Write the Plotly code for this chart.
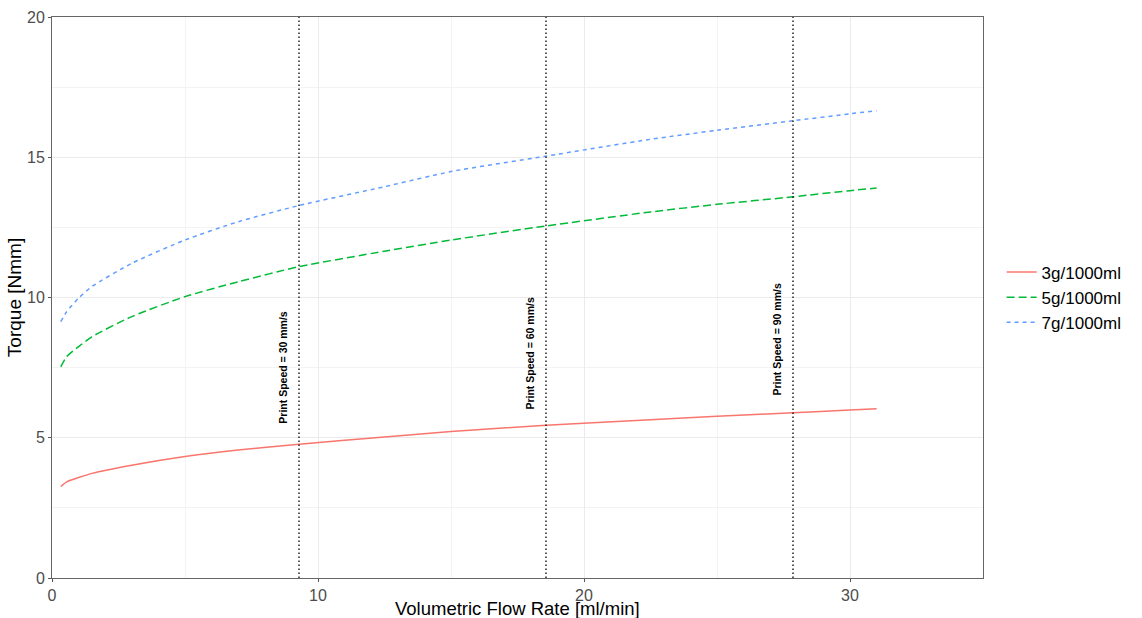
import plotly.graph_objects as go

# Data
flow_rate = [0.33, 0.55, 1.0, 1.5, 3.0, 5.0, 7.0, 9.29, 12.5, 15.0, 18.57,
             22.5, 25.0, 27.86, 30.0, 31.0]
torque_3g = [3.26, 3.43, 3.58, 3.73, 4.02, 4.33, 4.56, 4.77, 5.03, 5.22, 5.45,
             5.64, 5.77, 5.89, 5.99, 6.03]
torque_5g = [7.53, 7.89, 8.25, 8.60, 9.32, 10.03, 10.56, 11.10, 11.65, 12.05, 12.55,
             13.05, 13.32, 13.59, 13.81, 13.90]
torque_7g = [9.14, 9.49, 9.98, 10.39, 11.22, 12.05, 12.70, 13.28, 13.95, 14.49, 15.04,
             15.64, 15.96, 16.30, 16.55, 16.66]

series_names = ["3g/1000ml", "5g/1000ml", "7g/1000ml"]
series_colors = ["#F8766D", "#00BA38", "#619CFF"]
series_dash = ["solid", "8px,4px", "4px,4px"]

speed_lines = [9.286, 18.571, 27.857]
speed_labels = ["Print Speed = 30 mm/s", "Print Speed = 60 mm/s", "Print Speed = 90 mm/s"]
label_y = [7.5, 8.0, 8.5]

x_ticks = [0, 10, 20, 30]
y_ticks = [0, 5, 10, 15, 20]
x_title = "Volumetric Flow Rate [ml/min]"
y_title = "Torque [Nmm]"

fig = go.Figure()
for name, ys, col, dash in zip(series_names, [torque_3g, torque_5g, torque_7g],
                               series_colors, series_dash):
    fig.add_trace(go.Scatter(x=flow_rate, y=ys, mode="lines", name=name,
                             line=dict(color=col, width=1.5, dash=dash, shape="spline",
                                       smoothing=0.6)))

for xv, lab, yv in zip(speed_lines, speed_labels, label_y):
    fig.add_vline(x=xv, line=dict(color="black", width=1.3, dash="1.5px,2.5px"))
    fig.add_annotation(x=xv, y=yv, text="<b>" + lab + "</b>", textangle=-90, showarrow=False,
                       xshift=-16, font=dict(family="Liberation Sans", size=10.5, color="black"))

# x-axis title as a paper-anchored annotation to control its exact position
fig.add_annotation(x=0.5, y=0, xref="paper", yref="paper", xanchor="center", yanchor="top",
                   yshift=-19, text=x_title, showarrow=False, borderpad=0,
                   font=dict(family="Liberation Sans", size=18.5, color="black"))

fig.update_xaxes(range=[0, 35], tickvals=x_ticks, ticks="outside", ticklen=3,
                 tickcolor="#555", showline=True, linecolor="#666", linewidth=1, mirror=True,
                 gridcolor="#EBEBEB", gridwidth=1, zeroline=False, automargin=False,
                 minor=dict(dtick=5, showgrid=True, gridcolor="#F3F3F3", gridwidth=0.6),
                 tickfont=dict(family="Liberation Sans", size=16, color="#4D4D4D"))
fig.update_yaxes(range=[0, 20], tickvals=y_ticks, ticks="outside", ticklen=3,
                 tickcolor="#555", showline=True, linecolor="#666", linewidth=1, mirror=True,
                 gridcolor="#EBEBEB", gridwidth=1, zeroline=False, automargin=False,
                 minor=dict(dtick=2.5, showgrid=True, gridcolor="#F3F3F3", gridwidth=0.6),
                 tickfont=dict(family="Liberation Sans", size=16, color="#4D4D4D"),
                 title=dict(text=y_title, standoff=0,
                            font=dict(family="Liberation Sans", size=19, color="black")))

fig.update_layout(
    width=1142, height=618,
    margin=dict(l=52, r=159, t=17, b=40),
    plot_bgcolor="white", paper_bgcolor="white",
    font=dict(family="Liberation Sans"),
    legend=dict(x=1.02, y=0.5, xanchor="left", yanchor="middle",
                font=dict(family="Liberation Sans", size=17, color="black"),
                tracegroupgap=0, itemwidth=30),
)

fig.write_html("out.html", config={"displayModeBar": False},
               post_script="document.body.style.margin='0';document.body.style.overflow='hidden';")
